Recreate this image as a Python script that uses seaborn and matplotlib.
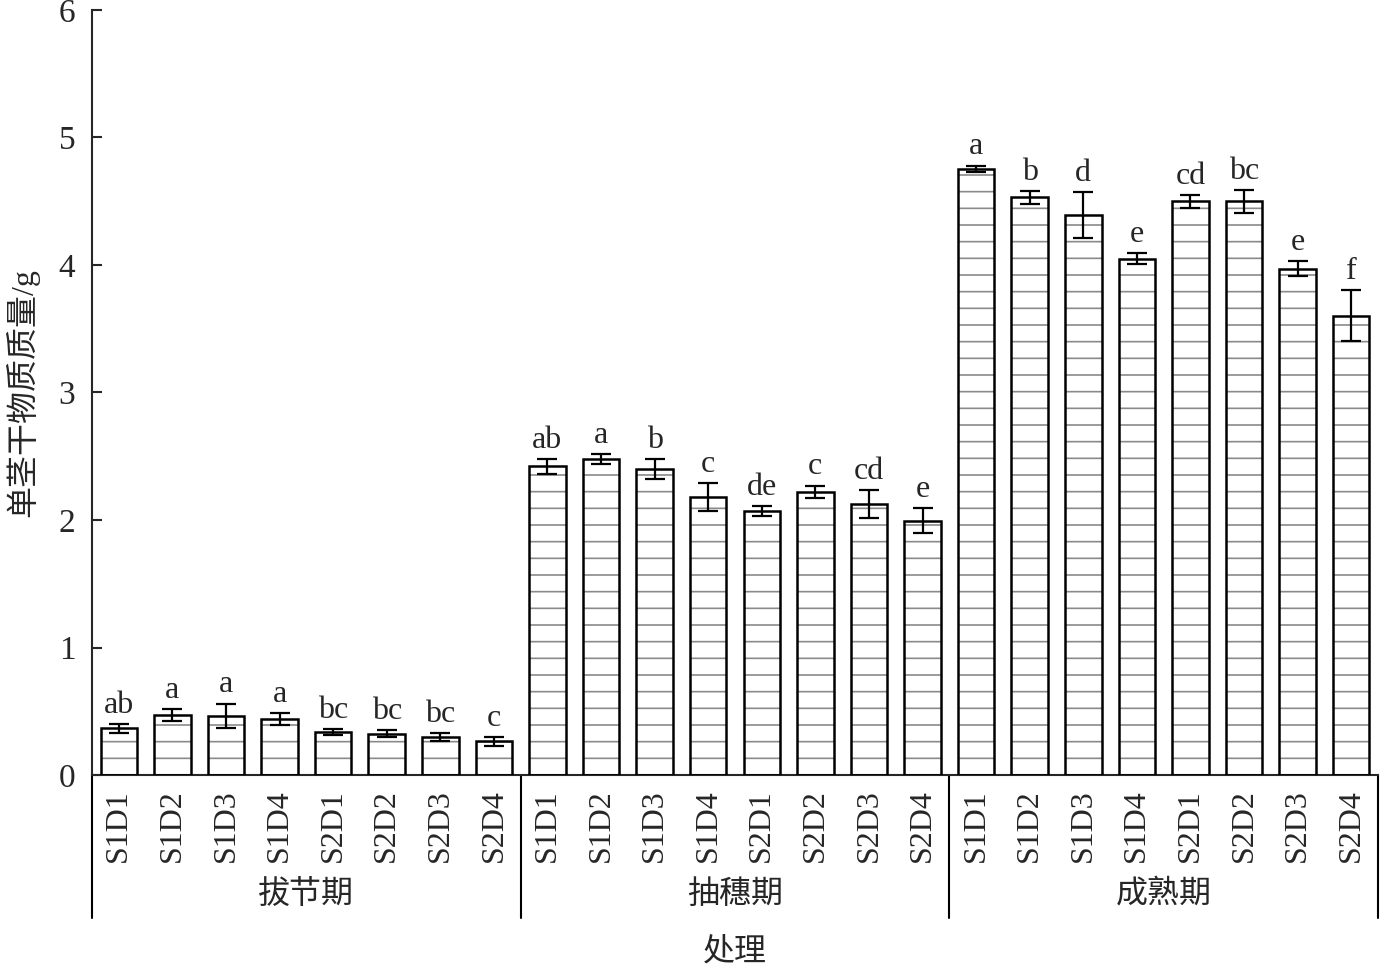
import matplotlib
matplotlib.use("Agg")
import matplotlib.pyplot as plt
from matplotlib.patches import Rectangle
import numpy as np
import pandas as pd
import seaborn as sns

# data
stages = ["拔节期", "抽穗期", "成熟期"]
treatments = ["S1D1", "S1D2", "S1D3", "S1D4", "S2D1", "S2D2", "S2D3", "S2D4"]

jointing_mean = [0.365, 0.47, 0.465, 0.44, 0.335, 0.325, 0.30, 0.265]
jointing_err = [0.035, 0.05, 0.095, 0.045, 0.025, 0.03, 0.03, 0.035]
jointing_sig = ["ab", "a", "a", "a", "bc", "bc", "bc", "c"]

heading_mean = [2.42, 2.48, 2.40, 2.18, 2.07, 2.22, 2.125, 1.995]
heading_err = [0.06, 0.04, 0.08, 0.11, 0.04, 0.05, 0.11, 0.10]
heading_sig = ["ab", "a", "b", "c", "de", "c", "cd", "e"]

mature_mean = [4.755, 4.53, 4.39, 4.05, 4.50, 4.50, 3.97, 3.60]
mature_err = [0.025, 0.05, 0.18, 0.045, 0.05, 0.09, 0.06, 0.20]
mature_sig = ["a", "b", "d", "e", "cd", "bc", "e", "f"]

df = pd.DataFrame({
    "stage": np.repeat(stages, len(treatments)),
    "treatment": treatments * 3,
    "mean": jointing_mean + heading_mean + mature_mean,
    "err": jointing_err + heading_err + mature_err,
    "sig": jointing_sig + heading_sig + mature_sig,
})
df["key"] = df["stage"] + "-" + df["treatment"]

sns.set_style("ticks")
plt.rcParams["font.family"] = ["Liberation Serif", "Noto Sans CJK SC"]
plt.rcParams["hatch.linewidth"] = 1.2

fig = plt.figure(figsize=(13.8, 9.71), dpi=100)
ax = fig.add_axes([92 / 1380, 1 - 775 / 971, 1286 / 1380, 765 / 971])

sns.barplot(data=df, x="key", y="mean", order=list(df["key"]), color="white",
            edgecolor="black", linewidth=1.8, width=0.68, errorbar=None,
            saturation=1, ax=ax, zorder=3)

# striped fill inside the bars
for p in list(ax.patches):
    h = Rectangle(p.get_xy(), p.get_width(), p.get_height(), facecolor="none",
                  edgecolor="#8a8a8a", linewidth=0, hatch="-", zorder=2)
    ax.add_patch(h)
    p.set_facecolor("none")

xs = np.arange(len(df))
ax.errorbar(xs, df["mean"], yerr=df["err"], fmt="none", ecolor="black",
            elinewidth=1.6, capsize=7, capthick=1.6, zorder=4)

for x, m, e, s in zip(xs, df["mean"], df["err"], df["sig"]):
    ax.annotate(s, (x, m + e), xytext=(0, 3), textcoords="offset points",
                ha="center", va="bottom", fontsize=23)

ax.set_xlim(-0.5, len(df) - 0.5)
ax.set_ylim(0, 6)
ax.set_yticks(range(0, 7))
ax.tick_params(axis="y", direction="in", length=7, width=1.5, labelsize=24, pad=12)
ax.set_xticks(xs)
ax.set_xticklabels(df["treatment"], rotation=90, fontsize=23)
ax.tick_params(axis="x", length=0, pad=10)
ax.set_xlabel("")
ax.set_ylabel("单茎干物质质量/g", fontsize=23, labelpad=14)
sns.despine(ax=ax)
for sp in ["left", "bottom"]:
    ax.spines[sp].set_linewidth(1.5)

# stage grouping below the axis
trans = ax.get_xaxis_transform()
n = len(treatments)
for i in range(len(stages) + 1):
    ax.plot([i * n - 0.5] * 2, [0, -0.187], transform=trans, color="black",
            lw=1.5, clip_on=False)
for i, st in enumerate(stages):
    ax.text(i * n + (n - 1) / 2, -0.157, st, transform=trans, ha="center",
            va="center", fontsize=23)
ax.text(0.5, -0.233, "处理", transform=ax.transAxes, ha="center", va="center",
        fontsize=23)

fig.savefig("out.png", dpi=100)
